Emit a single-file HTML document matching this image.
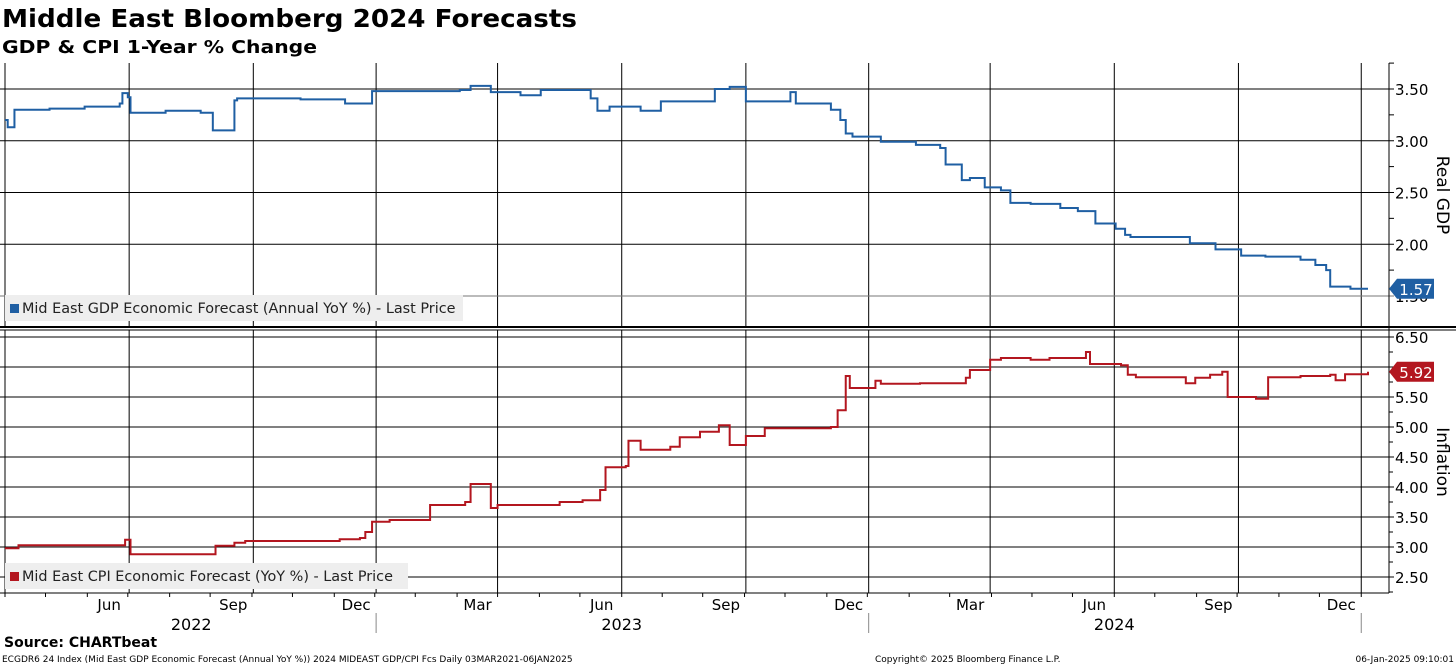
<!DOCTYPE html>
<html><head><meta charset="utf-8"><style>
body{margin:0;background:#fff;width:1456px;height:666px;overflow:hidden;font-family:"DejaVu Sans","Liberation Sans",sans-serif}
svg text{font-family:"DejaVu Sans","Liberation Sans",sans-serif}
</style></head><body>
<svg id="chart" width="1456" height="666" xmlns="http://www.w3.org/2000/svg">
<text x="2" y="27" font-size="25" font-weight="bold" textLength="575" lengthAdjust="spacingAndGlyphs">Middle East Bloomberg 2024 Forecasts</text>
<text x="2" y="53" font-size="18" font-weight="bold" textLength="315" lengthAdjust="spacingAndGlyphs">GDP &amp; CPI 1-Year % Change</text>
<text x="4" y="647" font-size="14" font-weight="bold">Source: CHARTbeat</text>
<text x="2" y="662" font-size="9">ECGDR6 24 Index (Mid East GDP Economic Forecast (Annual YoY %)) 2024 MIDEAST GDP/CPI Fcs  Daily 03MAR2021-06JAN2025</text>
<text x="875" y="662" font-size="9">Copyright© 2025 Bloomberg Finance L.P.</text>
<text x="1454" y="662" font-size="9" text-anchor="end">06-Jan-2025 09:10:01</text>
<g id="plot"></g>
</svg>
<script>
// Days since 2022-03-01
const gdpDays=[0,2,7,33,59,85,87,91,93,119,145,154,170,172,219,252,272,337,345,360,382,397,434,439,448,471,486,526,537,549,563,582,586,612,619,623,628,649,675,693,697,709,715,726,738,745,760,782,795,808,823,830,834,860,878,897,916,934,960,971,979,982,997,1010];
const gdpValues=[3.20,3.13,3.30,3.31,3.33,3.36,3.46,3.42,3.27,3.29,3.27,3.10,3.39,3.41,3.40,3.36,3.48,3.49,3.53,3.47,3.44,3.49,3.41,3.29,3.33,3.29,3.38,3.50,3.52,3.38,3.38,3.47,3.36,3.30,3.20,3.07,3.04,2.99,2.96,2.93,2.77,2.62,2.64,2.55,2.52,2.40,2.39,2.35,2.32,2.20,2.15,2.09,2.07,2.07,2.01,1.95,1.89,1.88,1.85,1.80,1.75,1.59,1.57,1.57];
const cpiDays=[0,10,85,89,93,152,156,170,178,219,248,263,267,272,285,315,341,345,358,360,365,411,428,441,445,460,462,471,493,500,515,529,537,549,563,612,617,623,626,645,649,678,712,715,730,738,760,774,801,804,827,832,838,864,875,882,893,902,906,927,936,960,982,986,993,1010];
const cpiValues=[2.98,3.03,3.03,3.12,2.88,2.88,3.02,3.07,3.10,3.10,3.13,3.15,3.25,3.42,3.45,3.70,3.75,4.05,4.05,3.65,3.70,3.75,3.78,3.95,4.33,4.35,4.77,4.62,4.67,4.83,4.92,5.03,4.70,4.85,4.98,5.00,5.28,5.85,5.65,5.77,5.72,5.73,5.82,5.95,6.12,6.15,6.12,6.15,6.25,6.05,6.03,5.87,5.83,5.83,5.73,5.82,5.87,5.92,5.50,5.47,5.83,5.85,5.87,5.78,5.88,5.92];
const monthLabels=["Jun","Sep","Dec","Mar","Jun","Sep","Dec","Mar","Jun","Sep","Dec"];
const gridDays=[92,184,275,365,457,549,640,730,822,914,1005];
const yearLabels=["2022","2023","2024"];
const yearCenterDays=[138,457,822];
const yearSepDays=[275,640,1005];
const gdpTicks=[3.5,3.0,2.5,2.0,1.5];
const cpiTicks=[6.5,6.0,5.5,5.0,4.5,4.0,3.5,3.0,2.5];

const NS="http://www.w3.org/2000/svg";
const plot=document.getElementById('plot');
function mk(tag,attrs,parent){const e=document.createElementNS(NS,tag);for(const k in attrs)e.setAttribute(k,attrs[k]);(parent||plot).appendChild(e);return e;}
const X0=5,PXD=1.3495,XR=1389;
const xS=d=>X0+d*PXD;
const yG=v=>89+(3.5-v)*103.5;
const yC=v=>577-(v-2.5)*60;
const TOP0=63,TOP1=326,BOT0=330,BOT1=593;

[[TOP0,TOP1],[BOT0,BOT1]].forEach(([a,b])=>{
  [0].concat(gridDays).forEach(d=>{const l=mk('line',{x1:xS(d),x2:xS(d),y1:a,y2:b,stroke:'#000','stroke-width':1});
  
  });
});
gdpTicks.forEach(v=>{const y=yG(v);
  const l=mk('line',{x1:0,x2:XR+5,y1:y,y2:y,stroke:v===1.5?'#777':'#000','stroke-width':1});
  
  
  const t=mk('text',{x:XR+6,y:y+6,'font-size':15});t.textContent=v.toFixed(2);
  
  
  mk('line',{x1:XR,x2:XR+5,y1:y-25.9,y2:y-25.9,stroke:'#000'});
});
cpiTicks.forEach(v=>{const y=yC(v);
  const l=mk('line',{x1:0,x2:XR+5,y1:y,y2:y,stroke:'#000','stroke-width':1});
  
  
  const t=mk('text',{x:XR+6,y:y+6,'font-size':15});t.textContent=v.toFixed(2);
  
  
  mk('line',{x1:XR,x2:XR+4,y1:y+15,y2:y+15,stroke:'#000'});
});
mk('line',{x1:XR,x2:XR,y1:TOP0,y2:BOT1,stroke:'#000','stroke-width':1});
mk('line',{x1:0,x2:1456,y1:327,y2:327,stroke:'#000','stroke-width':2});
mk('line',{x1:0,x2:1456,y1:330,y2:330,stroke:'#000','stroke-width':1});
mk('line',{x1:0,x2:XR,y1:BOT1,y2:BOT1,stroke:'#000','stroke-width':1});
let at=mk('text',{x:0,y:0,'font-size':17,transform:'translate(1437,195) rotate(90)','text-anchor':'middle'});at.textContent='Real GDP';


at=mk('text',{x:0,y:0,'font-size':17,transform:'translate(1437,462) rotate(90)','text-anchor':'middle'});at.textContent='Inflation';



for(let m=0;m<34;m++){const d=Math.round(m*30.44);const x=xS(d);if(x>XR)break;mk('line',{x1:x,x2:x,y1:BOT1,y2:BOT1+4,stroke:'#000'});}
monthLabels.forEach((s,i)=>{const t=mk('text',{x:xS(gridDays[i])-20,y:610,'font-size':15,'text-anchor':'middle'});t.textContent=s;
  
  });
yearLabels.forEach((s,i)=>{const t=mk('text',{x:xS(yearCenterDays[i]),y:630,'font-size':16,'text-anchor':'middle'});t.textContent=s;
  
  });
yearSepDays.forEach(d=>mk('line',{x1:xS(d),x2:xS(d),y1:613,y2:633,stroke:'#888'}));

function stepPath(days,vals,ys){let p='';days.forEach((d,i)=>{const x=xS(d),y=ys(vals[i]);if(i===0)p='M'+x+','+y;else{p+=' H'+x+' V'+y;}});return p;}
const g=mk('path',{d:stepPath(gdpDays,gdpValues,yG),fill:'none',stroke:'#1f5fa3','stroke-width':2});


const c=mk('path',{d:stepPath(cpiDays,cpiValues,yC),fill:'none',stroke:'#b3161f','stroke-width':2});



function tag(v,y,color,name){const gg=mk('g',{});
  
  
  mk('path',{d:`M${XR},${y} L${XR+8},${y-10} H${XR+45} V${y+10} H${XR+8} Z`,fill:color},gg);
  const t=mk('text',{x:XR+27,y:y+6,'font-size':15,fill:'#fff','text-anchor':'middle'},gg);t.textContent=v.toFixed(2);}
tag(gdpValues[gdpValues.length-1],yG(gdpValues[gdpValues.length-1]),'#1f5fa3','gdp-last-value-tag');
tag(cpiValues[cpiValues.length-1],yC(cpiValues[cpiValues.length-1]),'#b3161f','cpi-last-value-tag');

function legend(x,y,w,color,txt,name){const gg=mk('g',{});
  
  
  mk('rect',{x:x,y:y,width:w,height:26,fill:'#eeeeee'},gg);
  mk('rect',{x:x+5,y:y+9,width:9,height:9,fill:color},gg);
  const t=mk('text',{x:x+17,y:y+18,'font-size':14.4,fill:'#222'},gg);t.textContent=txt;}
legend(5,295,458,'#1f5fa3','Mid East GDP Economic Forecast (Annual YoY %) - Last Price','gdp-legend-entry');
legend(5,563,403,'#b3161f','Mid East CPI Economic Forecast (YoY %) - Last Price','cpi-legend-entry');
</script>
</body></html>
